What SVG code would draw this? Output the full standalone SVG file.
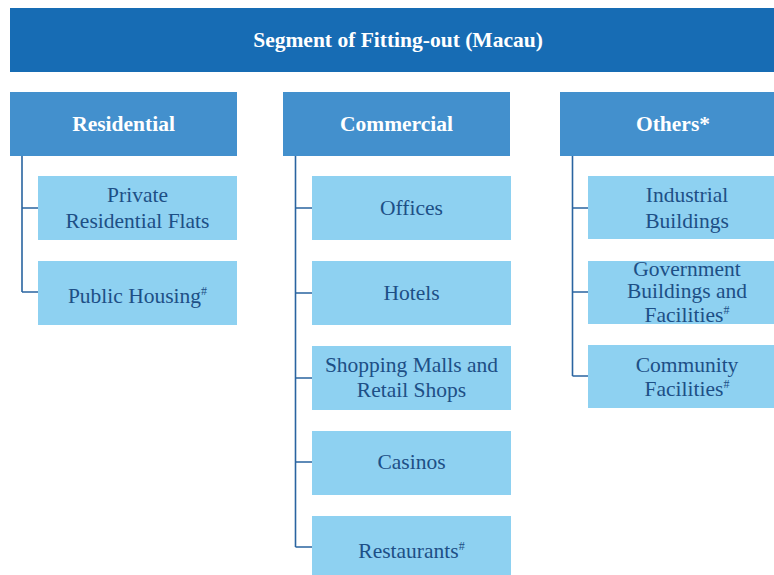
<svg xmlns="http://www.w3.org/2000/svg" width="774" height="575" viewBox="0 0 774 575">
  <style>
    .title { fill: #176cb4; }
    .head { fill: #4390cd; }
    .item { fill: #8ed1f1; }
    text { font-size: 21.5px; text-anchor: middle; }
    .wt { fill: #ffffff; font-weight: bold; }
    .bt { fill: #1d4f86; }
    .sup { font-size: 12px; }
    .conn { fill: none; stroke: #2a64a0; stroke-width: 1.6; }
  </style>
  <rect width="774" height="575" fill="#ffffff"/>

  <g font-family="'Liberation Serif', 'Times New Roman', Times, 'DejaVu Serif', serif">
  <g id="root">
    <rect class="title" x="10" y="8" width="776" height="64"/>
    <text class="wt" x="398" y="47">Segment of Fitting-out (Macau)</text>
  </g>

  <g id="connectors">
    <path class="conn" d="M22 156 V292 M22 208 H38 M22 292 H38"/>
    <path class="conn" d="M295.5 156 V547 M295.5 208 H312 M295.5 293 H312 M295.5 378 H312 M295.5 462 H312 M295.5 547 H312"/>
    <path class="conn" d="M572.5 156 V376 M572.5 208 H588 M572.5 292 H588 M572.5 376 H588"/>
  </g>

  <g id="residential">
    <rect class="head" x="10" y="92" width="227" height="64"/>
    <text class="wt" x="123.5" y="131">Residential</text>
  </g>
  <g id="commercial">
    <rect class="head" x="283" y="92" width="227" height="64"/>
    <text class="wt" x="396.5" y="131">Commercial</text>
  </g>
  <g id="others">
    <rect class="head" x="560" y="92" width="227" height="64"/>
    <text class="wt" x="673" y="131">Others*</text>
  </g>

  <g id="private-flats">
    <rect class="item" x="38" y="176" width="199" height="64"/>
    <text class="bt" x="137.5" y="202">Private</text>
    <text class="bt" x="137.5" y="228">Residential Flats</text>
  </g>
  <g id="public-housing">
    <rect class="item" x="38" y="261" width="199" height="64"/>
    <text class="bt" x="137.5" y="303">Public Housing<tspan class="sup" dy="-8">#</tspan></text>
  </g>

  <g id="offices">
    <rect class="item" x="312" y="176" width="199" height="64"/>
    <text class="bt" x="411.5" y="215">Offices</text>
  </g>
  <g id="hotels">
    <rect class="item" x="312" y="261" width="199" height="64"/>
    <text class="bt" x="411.5" y="300">Hotels</text>
  </g>
  <g id="shopping">
    <rect class="item" x="312" y="346" width="199" height="64"/>
    <text class="bt" x="411.5" y="372">Shopping Malls and</text>
    <text class="bt" x="411.5" y="397">Retail Shops</text>
  </g>
  <g id="casinos">
    <rect class="item" x="312" y="431" width="199" height="64"/>
    <text class="bt" x="411.5" y="469">Casinos</text>
  </g>
  <g id="restaurants">
    <rect class="item" x="312" y="516" width="199" height="64"/>
    <text class="bt" x="411.5" y="558">Restaurants<tspan class="sup" dy="-8">#</tspan></text>
  </g>

  <g id="industrial">
    <rect class="item" x="588" y="176" width="199" height="63"/>
    <text class="bt" x="687" y="202">Industrial</text>
    <text class="bt" x="687" y="228">Buildings</text>
  </g>
  <g id="government">
    <rect class="item" x="588" y="261" width="199" height="63"/>
    <text class="bt" x="687" y="276">Government</text>
    <text class="bt" x="687" y="298">Buildings and</text>
    <text class="bt" x="687" y="322">Facilities<tspan class="sup" dy="-8">#</tspan></text>
  </g>
  <g id="community">
    <rect class="item" x="588" y="345" width="199" height="63"/>
    <text class="bt" x="687" y="372">Community</text>
    <text class="bt" x="687" y="396">Facilities<tspan class="sup" dy="-8">#</tspan></text>
  </g>
  </g>
</svg>
